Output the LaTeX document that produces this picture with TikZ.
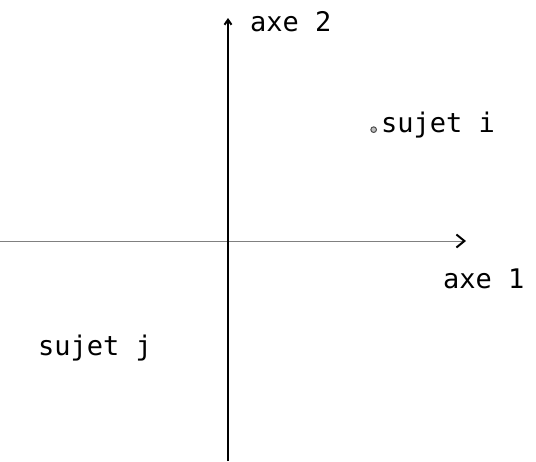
\documentclass[tikz,border=0pt]{standalone}
\usepackage{fontspec}
\setmonofont{DejaVu Sans Mono}
\usepackage{tikz}
\usetikzlibrary{arrows.meta,positioning}

\begin{document}
\begin{tikzpicture}[x=1pt, y=-1pt,
 lbl/.style={font=\ttfamily\fontsize{27}{30}\selectfont, inner sep=0pt, anchor=base west},
 axis/.style={-{Straight Barb[length=8pt,width=13pt,line width=2pt,black]}}]
\useasboundingbox (0,0) rectangle (536,461);

% Axes
\coordinate (o) at (228,241);
\coordinate (xl) at (0,241);
\coordinate (xr) at (466,241);
\coordinate (yb) at (228,461);
\coordinate (yt) at (228,18);
\draw[axis, black!50, line width=0.7pt] (xl) -- (xr);
\draw[-{Straight Barb[length=5pt,width=7pt,line width=2pt]}, line width=1.5pt] (yb) -- (yt);

% Labels
\node[lbl] (axe2) at (250,31) {axe 2};
\node[lbl] (axe1) at (443,288) {axe 1};
\node[lbl] (sujeti) at (381,132) {sujet i};
\node[lbl] (sujetj) at (38,355) {sujet j};

% Point i
\node[circle, draw=black!70, fill=black!25, line width=1pt, inner sep=2pt,
 left=5pt of sujeti.base west, anchor=south east] (pti) {};
\end{tikzpicture}
\end{document}
